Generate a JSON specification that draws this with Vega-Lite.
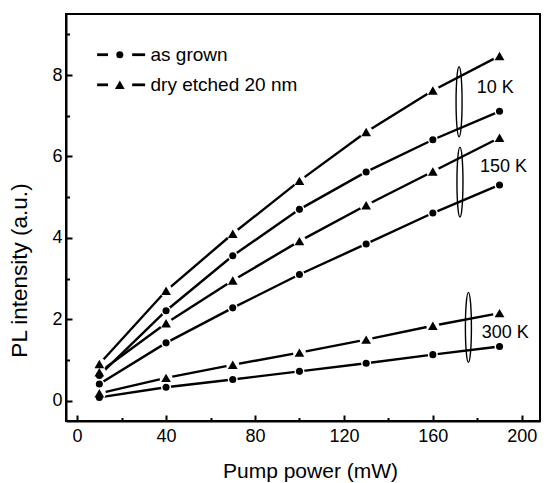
{
  "$schema": "https://vega.github.io/schema/vega-lite/v6.json",
  "width": 474,
  "height": 407,
  "autosize": {"type": "none"},
  "padding": {"left": 66, "top": 14, "right": 4, "bottom": 62},
  "config": {
    "view": {"stroke": "black", "strokeWidth": 2},
    "font": "Liberation Sans",
    "axis": {
      "domainColor": "black", "domainWidth": 2, "tickColor": "black", "tickWidth": 2,
      "labelColor": "black", "titleColor": "black", "labelFont": "Liberation Sans", "titleFont": "Liberation Sans",
      "labelFontSize": 18, "titleFontSize": 21, "titleFontWeight": "normal", "grid": false
    }
  },
  "datasets": {
    "pl": [
      {"T": "10 K", "sample": "dry etched 20 nm", "p": 10, "I": 0.90},
      {"T": "10 K", "sample": "dry etched 20 nm", "p": 40, "I": 2.70},
      {"T": "10 K", "sample": "dry etched 20 nm", "p": 70, "I": 4.10},
      {"T": "10 K", "sample": "dry etched 20 nm", "p": 100, "I": 5.40},
      {"T": "10 K", "sample": "dry etched 20 nm", "p": 130, "I": 6.60},
      {"T": "10 K", "sample": "dry etched 20 nm", "p": 160, "I": 7.62},
      {"T": "10 K", "sample": "dry etched 20 nm", "p": 190, "I": 8.47},
      {"T": "10 K", "sample": "as grown", "p": 10, "I": 0.62},
      {"T": "10 K", "sample": "as grown", "p": 40, "I": 2.21},
      {"T": "10 K", "sample": "as grown", "p": 70, "I": 3.56},
      {"T": "10 K", "sample": "as grown", "p": 100, "I": 4.70},
      {"T": "10 K", "sample": "as grown", "p": 130, "I": 5.62},
      {"T": "10 K", "sample": "as grown", "p": 160, "I": 6.41},
      {"T": "10 K", "sample": "as grown", "p": 190, "I": 7.11},
      {"T": "150 K", "sample": "dry etched 20 nm", "p": 10, "I": 0.70},
      {"T": "150 K", "sample": "dry etched 20 nm", "p": 40, "I": 1.90},
      {"T": "150 K", "sample": "dry etched 20 nm", "p": 70, "I": 2.95},
      {"T": "150 K", "sample": "dry etched 20 nm", "p": 100, "I": 3.92},
      {"T": "150 K", "sample": "dry etched 20 nm", "p": 130, "I": 4.80},
      {"T": "150 K", "sample": "dry etched 20 nm", "p": 160, "I": 5.63},
      {"T": "150 K", "sample": "dry etched 20 nm", "p": 190, "I": 6.46},
      {"T": "150 K", "sample": "as grown", "p": 10, "I": 0.41},
      {"T": "150 K", "sample": "as grown", "p": 40, "I": 1.42},
      {"T": "150 K", "sample": "as grown", "p": 70, "I": 2.28},
      {"T": "150 K", "sample": "as grown", "p": 100, "I": 3.10},
      {"T": "150 K", "sample": "as grown", "p": 130, "I": 3.85},
      {"T": "150 K", "sample": "as grown", "p": 160, "I": 4.61},
      {"T": "150 K", "sample": "as grown", "p": 190, "I": 5.30},
      {"T": "300 K", "sample": "dry etched 20 nm", "p": 10, "I": 0.18},
      {"T": "300 K", "sample": "dry etched 20 nm", "p": 40, "I": 0.56},
      {"T": "300 K", "sample": "dry etched 20 nm", "p": 70, "I": 0.88},
      {"T": "300 K", "sample": "dry etched 20 nm", "p": 100, "I": 1.18},
      {"T": "300 K", "sample": "dry etched 20 nm", "p": 130, "I": 1.50},
      {"T": "300 K", "sample": "dry etched 20 nm", "p": 160, "I": 1.84},
      {"T": "300 K", "sample": "dry etched 20 nm", "p": 190, "I": 2.15},
      {"T": "300 K", "sample": "as grown", "p": 10, "I": 0.08},
      {"T": "300 K", "sample": "as grown", "p": 40, "I": 0.33},
      {"T": "300 K", "sample": "as grown", "p": 70, "I": 0.52},
      {"T": "300 K", "sample": "as grown", "p": 100, "I": 0.72},
      {"T": "300 K", "sample": "as grown", "p": 130, "I": 0.92},
      {"T": "300 K", "sample": "as grown", "p": 160, "I": 1.13},
      {"T": "300 K", "sample": "as grown", "p": 190, "I": 1.33}
    ],
    "ell": [
      {"T": "10 K", "p": 171.8, "I": 7.345},
      {"T": "150 K", "p": 172.2, "I": 5.37},
      {"T": "300 K", "p": 176.0, "I": 1.80}
    ],
    "lab": [
      {"T": "10 K", "p": 179.7, "I": 7.67},
      {"T": "150 K", "p": 181.2, "I": 5.73},
      {"T": "300 K", "p": 182.0, "I": 1.655}
    ],
    "legdash": [
      {"sample": "as grown", "I": 8.50, "p": 9.0, "p2": 13.9},
      {"sample": "as grown", "I": 8.50, "p": 24.75, "p2": 30.6},
      {"sample": "dry etched 20 nm", "I": 7.76, "p": 9.0, "p2": 13.9},
      {"sample": "dry etched 20 nm", "I": 7.76, "p": 24.75, "p2": 30.6}
    ],
    "legpt": [
      {"sample": "as grown", "I": 8.50, "p": 19.2},
      {"sample": "dry etched 20 nm", "I": 7.76, "p": 19.2}
    ],
    "legtxt": [
      {"sample": "as grown", "I": 8.50, "p": 33.0},
      {"sample": "dry etched 20 nm", "I": 7.76, "p": 33.0}
    ]
  },
  "encoding": {
    "x": {
      "field": "p", "type": "quantitative",
      "scale": {"domain": [-5, 208.2], "nice": false, "zero": false},
      "axis": {
        "title": "Pump power (mW)",
        "values": [0, 20, 40, 60, 80, 100, 120, 140, 160, 180, 200],
        "labelExpr": "datum.value % 40 === 0 ? datum.label : ''",
        "tickSize": {"condition": {"test": "datum.value % 40 === 0", "value": -6}, "value": -3.5},
        "labelPadding": 12,
        "titleX": 244, "titleY": 56, "titleBaseline": "alphabetic"
      }
    },
    "y": {
      "field": "I", "type": "quantitative",
      "scale": {"domain": [-0.5, 9.5], "nice": false, "zero": false},
      "axis": {
        "title": "PL intensity (a.u.)",
        "values": [0, 1, 2, 3, 4, 5, 6, 7, 8, 9],
        "labelExpr": "datum.value % 2 === 0 ? datum.label : ''",
        "tickSize": {"condition": {"test": "datum.value % 2 === 0", "value": -6}, "value": -3.5},
        "labelPadding": 10,
        "titleFontSize": 22.5,
        "titleX": -39.5, "titleY": 256, "titleBaseline": "alphabetic", "titleAngle": -90
      }
    }
  },
  "layer": [
    {
      "data": {"name": "pl"},
      "mark": {"type": "line", "color": "black", "strokeWidth": 2.4},
      "encoding": {"detail": [{"field": "T"}, {"field": "sample"}]}
    },
    {
      "data": {"name": "pl"},
      "transform": [{"filter": "datum.sample === 'as grown'"}],
      "mark": {"type": "point", "shape": "circle", "filled": true, "color": "white", "opacity": 1, "size": 100}
    },
    {
      "data": {"name": "pl"},
      "transform": [{"filter": "datum.sample !== 'as grown'"}],
      "mark": {"type": "point", "shape": "circle", "filled": true, "color": "white", "opacity": 1, "size": 170}
    },
    {
      "data": {"name": "pl"},
      "transform": [{"filter": "datum.sample === 'as grown'"}],
      "mark": {"type": "point", "shape": "circle", "filled": true, "color": "black", "opacity": 1, "size": 50}
    },
    {
      "data": {"name": "pl"},
      "transform": [{"filter": "datum.sample !== 'as grown'"}],
      "mark": {"type": "point", "shape": "triangle-up", "filled": true, "color": "black", "opacity": 1, "size": 95}
    },
    {
      "data": {"name": "ell"},
      "mark": {"type": "point", "shape": "M0,-1A0.086,1,0,1,1,0,1A0.086,1,0,1,1,0,-1Z", "filled": false, "stroke": "black", "strokeWidth": 1.4, "opacity": 1, "size": 4900}
    },
    {
      "data": {"name": "lab"},
      "mark": {"type": "text", "align": "left", "baseline": "middle", "fontSize": 18, "font": "Liberation Sans", "color": "black"},
      "encoding": {"text": {"field": "T"}}
    },
    {
      "data": {"name": "legdash"},
      "mark": {"type": "rule", "color": "black", "strokeWidth": 2.8},
      "encoding": {"x2": {"field": "p2"}}
    },
    {
      "data": {"name": "legpt"},
      "mark": {"type": "point", "filled": true, "color": "black", "opacity": 1},
      "encoding": {
        "shape": {"field": "sample", "scale": {"domain": ["as grown", "dry etched 20 nm"], "range": ["circle", "triangle-up"]}, "legend": null},
        "size": {"field": "sample", "scale": {"domain": ["as grown", "dry etched 20 nm"], "range": [50, 95]}, "legend": null}
      }
    },
    {
      "data": {"name": "legtxt"},
      "mark": {"type": "text", "align": "left", "baseline": "middle", "fontSize": 19, "font": "Liberation Sans", "color": "black"},
      "encoding": {"text": {"field": "sample"}}
    }
  ]
}
